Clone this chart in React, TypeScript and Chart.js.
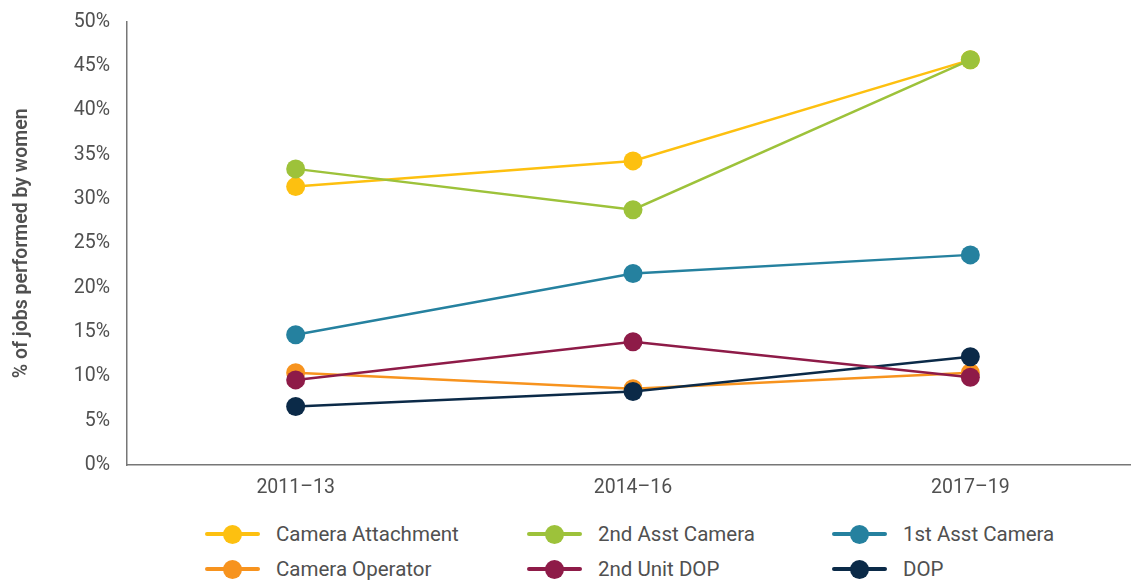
import React, { useEffect, useRef } from "react";
import { Chart, registerables } from "chart.js";

Chart.register(...registerables);

const periods = ["2011–13", "2014–16", "2017–19"];
const cameraAttachment = [31.4, 34.3, 45.7];
const secondAsstCamera = [33.4, 28.8, 45.7];
const firstAsstCamera = [14.7, 21.6, 23.7];
const cameraOperator = [10.4, 8.6, 10.4];
const secondUnitDop = [9.6, 13.9, 9.9];
const dop = [6.6, 8.3, 12.2];

const seriesNames = [
  "Camera Attachment",
  "2nd Asst Camera",
  "1st Asst Camera",
  "Camera Operator",
  "2nd Unit DOP",
  "DOP",
];
const seriesValues = [
  cameraAttachment,
  secondAsstCamera,
  firstAsstCamera,
  cameraOperator,
  secondUnitDop,
  dop,
];
const seriesColors = ["#FDC010", "#9DC23A", "#25819F", "#F7931E", "#8E1B48", "#0B2A48"];
// lower = drawn on top
const drawOrder = [1, 0, 2, 5, 3, 4];

const FONT = "Roboto, 'DejaVu Sans', sans-serif";
const TEXT = "#505050";

export default function App() {
  const ref = useRef<HTMLCanvasElement | null>(null);

  useEffect(() => {
    if (!ref.current) return;
    const chart = new Chart(ref.current, {
      type: "line",
      data: {
        labels: periods,
        datasets: seriesNames.map((name, i) => ({
          label: name,
          data: seriesValues[i],
          borderColor: seriesColors[i],
          backgroundColor: seriesColors[i],
          pointBackgroundColor: seriesColors[i],
          pointBorderColor: seriesColors[i],
          pointRadius: 9.5,
          pointBorderWidth: 0,
          borderWidth: 2.5,
          tension: 0,
          order: drawOrder[i],
        })),
      },
      options: {
        animation: false,
        responsive: false,
        layout: { padding: { top: 12, right: 11, left: 0, bottom: 0 } },
        plugins: { legend: { display: false }, tooltip: { enabled: false } },
        scales: {
          x: {
            offset: true,
            grid: { display: false, drawTicks: false },
            border: { display: true, color: "#777777", width: 1.5 },
            ticks: { color: TEXT, font: { family: FONT, size: 19.5 }, padding: 11 },
            afterFit: (s: any) => {
              s.height = 45;
            },
          },
          y: {
            min: 0,
            max: 50,
            grid: { display: false, drawTicks: false },
            border: { display: true, color: "#777777", width: 1.5 },
            ticks: {
              stepSize: 5,
              color: TEXT,
              font: { family: FONT, size: 19.5 },
              padding: 17,
              callback: (v: any) => v + "%",
            },
            title: {
              display: true,
              text: "% of jobs performed by women",
              color: TEXT,
              font: { family: FONT, size: 19.5, weight: "600" },
              padding: { top: 10, bottom: 0 },
            },
            afterFit: (s: any) => {
              s.width = 127;
            },
          },
        },
      },
    });
    return () => chart.destroy();
  }, []);

  const colLeft = [205, 527, 832];

  return (
    <div
      style={{
        position: "absolute",
        left: 0,
        top: 0,
        width: 1131,
        height: 581,
        overflow: "hidden",
        background: "#ffffff",
        fontFamily: FONT,
      }}
    >
      <canvas
        ref={ref}
        width={1150}
        height={517}
        style={{ position: "absolute", left: 0, top: -7, width: 1150, height: 517 }}
      />
      {seriesNames.map((name, i) => {
        const col = i % 3;
        const row = Math.floor(i / 3);
        const cy = row === 0 ? 534 : 569;
        return (
          <div
            key={name}
            style={{
              position: "absolute",
              left: colLeft[col],
              top: cy - 15,
              height: 30,
              display: "flex",
              alignItems: "center",
              whiteSpace: "nowrap",
            }}
          >
            <div style={{ position: "relative", width: 55, height: 30 }}>
              <div
                style={{
                  position: "absolute",
                  left: 0,
                  top: 13,
                  width: 55,
                  height: 4,
                  background: seriesColors[i],
                  borderRadius: 2,
                }}
              />
              <div
                style={{
                  position: "absolute",
                  left: 18,
                  top: 5.5,
                  width: 19,
                  height: 19,
                  borderRadius: 9.5,
                  background: seriesColors[i],
                }}
              />
            </div>
            <span style={{ marginLeft: 16, fontSize: 20.5, color: TEXT }}>{name}</span>
          </div>
        );
      })}
    </div>
  );
}
